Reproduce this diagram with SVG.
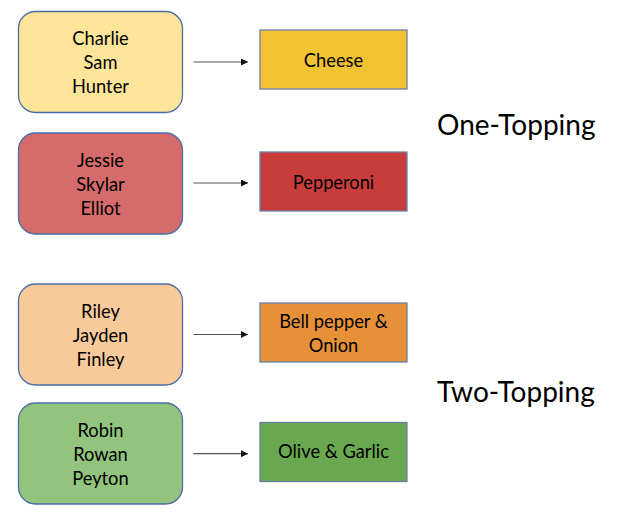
<svg xmlns="http://www.w3.org/2000/svg" width="629" height="525" viewBox="0 0 629 525">
<defs>
<marker id="ah" viewBox="0 0 10 10" refX="10" refY="5" markerWidth="7" markerHeight="7" markerUnits="userSpaceOnUse" orient="auto">
<path d="M0,0 L10,5 L0,10 z" fill="#111"/>
</marker>
</defs>
<style>
.grp rect{stroke:#4A6EA5;stroke-width:1.3}
.top rect{stroke:#6A80A8;stroke-width:1.3}
text{font-family:Lato,"Liberation Sans",sans-serif;fill:#000;text-anchor:middle}
.n{font-size:18.3px}
.t{font-size:28px;text-anchor:start}
.conn line{stroke:#555;stroke-width:1.2;marker-end:url(#ah)}
</style>
<rect width="629" height="525" fill="#fff"/>
<g id="g1" class="grp"><rect x="18.5" y="11.5" width="164" height="101" rx="17" fill="#FFE599"/>
<text class="n" x="100.5" y="45">Charlie</text><text class="n" x="100.5" y="69">Sam</text><text class="n" x="100.5" y="93">Hunter</text></g>
<g id="g2" class="grp"><rect x="18.5" y="133" width="164" height="101" rx="17" fill="#D66B6B"/>
<text class="n" x="100.5" y="166.7">Jessie</text><text class="n" x="100.5" y="190.7">Skylar</text><text class="n" x="100.5" y="214.7">Elliot</text></g>
<g id="g3" class="grp"><rect x="18.5" y="284" width="164" height="101" rx="17" fill="#F9CB9C"/>
<text class="n" x="100.5" y="317.7">Riley</text><text class="n" x="100.5" y="341.7">Jayden</text><text class="n" x="100.5" y="365.7">Finley</text></g>
<g id="g4" class="grp"><rect x="18.5" y="403" width="164" height="101" rx="17" fill="#93C47D"/>
<text class="n" x="100.5" y="436.7">Robin</text><text class="n" x="100.5" y="460.7">Rowan</text><text class="n" x="100.5" y="484.7">Peyton</text></g>
<g id="cheese" class="top"><rect x="260" y="30" width="147" height="59" fill="#F1C232"/><text class="n" x="333.5" y="67">Cheese</text></g>
<g id="pepperoni" class="top"><rect x="260" y="152" width="147" height="59" fill="#C93C3C"/><text class="n" x="333.5" y="189">Pepperoni</text></g>
<g id="bellpepper" class="top"><rect x="260" y="303" width="147" height="59" fill="#E69138"/><text class="n" x="333.5" y="328.3">Bell pepper &amp;</text><text class="n" x="333.5" y="351.7">Onion</text></g>
<g id="olive" class="top"><rect x="260" y="422.5" width="147" height="59" fill="#6AA84F"/><text class="n" x="333.5" y="458.3">Olive &amp; Garlic</text></g>
<g id="label1"><text class="t" x="437" y="135">One-Topping</text></g>
<g id="label2"><text class="t" x="437" y="402">Two-Topping</text></g>
<g id="connectors" class="conn">
<line x1="193.5" y1="62" x2="248" y2="62"/>
<line x1="193.5" y1="183" x2="248" y2="183"/>
<line x1="193.5" y1="334.5" x2="248" y2="334.5"/>
<line x1="193.5" y1="453.7" x2="248" y2="453.7"/>
</g>
</svg>
